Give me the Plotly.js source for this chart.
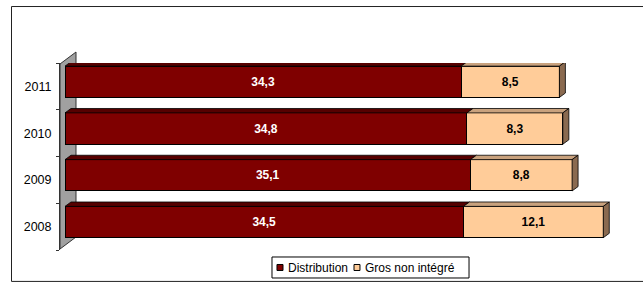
<!DOCTYPE html>
<html><head><meta charset="utf-8">
<script src="https://cdn.plot.ly/plotly-3.0.1.min.js"></script>
<style>html,body{margin:0;padding:0;background:#fff}</style>
</head><body><div id="chart" style="width:643px;height:282px"></div>
<script>
var years = ['2008', '2009', '2010', '2011'];
var distribution = [34.5, 35.1, 34.8, 34.3];
var grosNonIntegre = [12.1, 8.8, 8.3, 8.5];
var seriesNames = ['Distribution', 'Gros non intégré'];

var yPos = years.map(function (_, i) { return i; });
var barW = 0.67, barOff = 0.098 - barW / 2;
var dx = 0.52, dy = 0.094;

var distFront = '#7f0000', distTop = '#560000';
var grosFront = '#ffcc99', grosTop = '#c9a27e', grosSide = '#8a6a50';

function poly(pts, fill) {
  var d = 'M' + pts.map(function (p) { return p[0] + ',' + p[1]; }).join(' L') + ' Z';
  return {type: 'path', xref: 'x', yref: 'y', path: d, fillcolor: fill,
          line: {color: '#000', width: 0.8}, layer: 'above'};
}
function prect(x0, x1, y0, y1, fill, lw) {
  return {type: 'rect', xref: 'paper', yref: 'paper', x0: x0, x1: x1, y0: y0, y1: y1,
          fillcolor: fill, line: {color: '#000', width: lw}, layer: 'above'};
}

var shapes = [];
// outer frame
shapes.push({type: 'rect', xref: 'paper', yref: 'paper', x0: -0.0836, x1: 1.01, y0: -0.168, y1: 1.302,
  line: {color: '#222', width: 1}, fillcolor: 'rgba(0,0,0,0)', layer: 'below'});
// side wall
shapes.push({type: 'path', xref: 'paper', yref: 'paper',
  path: 'M0,0.0053 L0,0.9947 L0.0276,1.0588 L0.0276,0.0695 Z',
  fillcolor: '#a0a0a0', line: {color: '#333', width: 1}, layer: 'below'});

yPos.forEach(function (y, i) {
  var yb = y + barOff, yt = yb + barW;
  var x0 = 0, x1 = distribution[i], x2 = distribution[i] + grosNonIntegre[i];
  shapes.push(poly([[x0, yt], [x1, yt], [x1 + dx, yt + dy], [x0 + dx, yt + dy]], distTop));
  shapes.push(poly([[x1, yt], [x2, yt], [x2 + dx, yt + dy], [x1 + dx, yt + dy]], grosTop));
  shapes.push(poly([[x2, yb], [x2, yt], [x2 + dx, yt + dy], [x2 + dx, yb + dy]], grosSide));
});

// legend (custom, compact like the reference)
shapes.push(prect(0.3655, 0.7052, -0.0374, -0.1497, '#fff', 1));
shapes.push(prect(0.3741, 0.3845, -0.0775, -0.1096, distFront, 1));
shapes.push(prect(0.5069, 0.5172, -0.0775, -0.1096, grosFront, 1));
var annotations = [
  {xref: 'paper', yref: 'paper', x: 0.3914, y: -0.0936, xanchor: 'left', yanchor: 'middle',
   text: seriesNames[0], showarrow: false, font: {size: 12, color: '#000'}, borderpad: 0},
  {xref: 'paper', yref: 'paper', x: 0.5241, y: -0.0936, xanchor: 'left', yanchor: 'middle',
   text: seriesNames[1], showarrow: false, font: {size: 12, color: '#000'}, borderpad: 0}
];

var common = {type: 'bar', orientation: 'h', y: yPos, width: barW, offset: barOff,
  texttemplate: '%{x:.1f}', textposition: 'inside', insidetextanchor: 'middle',
  textangle: 0, hoverinfo: 'skip', constraintext: 'none'};

var t1 = Object.assign({}, common, {name: seriesNames[0], x: distribution,
  marker: {color: distFront, line: {color: '#000', width: 1}},
  textfont: {family: 'Liberation Sans, Arial, sans-serif', size: 12, color: '#fff', weight: 'bold'}});
var t2 = Object.assign({}, common, {name: seriesNames[1], x: grosNonIntegre,
  marker: {color: grosFront, line: {color: '#000', width: 1}},
  textfont: {family: 'Liberation Sans, Arial, sans-serif', size: 12, color: '#000', weight: 'bold'}});

var layout = {
  width: 643, height: 282,
  margin: {l: 60, r: 3, t: 63, b: 32},
  paper_bgcolor: '#fff', plot_bgcolor: 'rgba(0,0,0,0)',
  barmode: 'stack', separators: ', ',
  font: {family: 'Liberation Sans, Arial, sans-serif', size: 12, color: '#000'},
  xaxis: {range: [-0.433, 49.78], showgrid: false, zeroline: false, showticklabels: false,
          showline: false, ticks: '', fixedrange: true},
  yaxis: {range: [-0.5, 3.5], tickmode: 'array', tickvals: yPos, ticktext: years,
          ticks: '', showgrid: false, zeroline: false, showline: true, linecolor: '#333', linewidth: 1,
          ticklabelstandoff: 5,
          minor: {tickmode: 'array', tickvals: [-0.5, 0.5, 1.5, 2.5, 3.5], ticks: 'outside',
                  ticklen: 3, tickcolor: '#333', tickwidth: 1, showgrid: false},
          tickfont: {size: 12.5}},
  shapes: shapes,
  annotations: annotations,
  showlegend: false
};

Plotly.newPlot('chart', [t1, t2], layout, {displayModeBar: false, staticPlot: true});
</script></body></html>
